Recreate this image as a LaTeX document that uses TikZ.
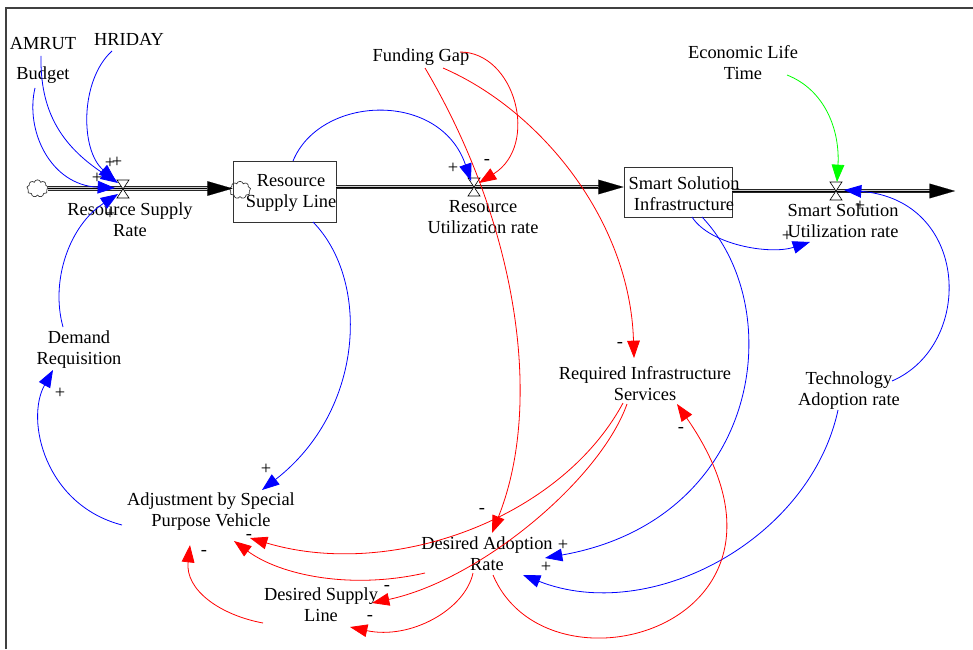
\documentclass[tikz,border=0pt]{standalone}
\usepackage{fontspec}
\setmainfont{Liberation Serif}
\usetikzlibrary{arrows.meta,shapes.symbols}
\begin{document}
\begin{tikzpicture}[x=0.75pt,y=-0.75pt,
  lbl/.style={font=\fontsize{13.8}{15.8}\selectfont, align=center, inner sep=0pt},
  pol/.style={font=\fontsize{13.8}{15.8}\selectfont, inner sep=0pt},
  stock/.style={draw=black!80, line width=0.6pt, inner sep=0pt},
  valvenode/.style={inner sep=0pt, minimum width=9pt, minimum height=13.5pt},
  cloudnode/.style={cloud, cloud puffs=9, cloud ignores aspect, draw=black!80, line width=0.5pt, minimum width=16pt, minimum height=13pt, inner sep=0pt},
  pipe/.style={draw=black!85, line width=0.7pt, double=black!20!white, double distance=2pt},
  pipetip/.style={-{Triangle[length=19pt,width=11pt]}, line width=0.1pt, black},
  cnx/.style={line width=0.6pt, -{Triangle[length=13pt,width=9.5pt]}},
  bluec/.style={cnx, blue},
  redc/.style={cnx, red},
  greenc/.style={cnx, green},
  hourglass/.pic={
    \draw[fill=white, line width=0.5pt] (-6,-9) -- (6,-9) -- (0,0) -- cycle;
    \draw[fill=white, line width=0.5pt] (0,0) -- (-6,9) -- (6,9) -- cycle;
  }
]
\useasboundingbox (0,0) rectangle (973,649);
% frame
\draw[line width=1.1pt, black!75] (6,649) -- (6,8) -- (973,8);

% stocks, valves, clouds
\node[stock, minimum width=77.25pt, minimum height=45.75pt] (rslbox) at (284.5,191.5) {};
\node[stock, minimum width=81pt, minimum height=37.5pt] (ssibox) at (678,192) {};
\node[cloudnode] (src) at (37.5,188.5) {};
\node[cloudnode] (cl2) at (240,190) {};
\node[valvenode] (v1) at (123,189) {};
\node[valvenode] (v2) at (474,187) {};
\node[valvenode] (v3) at (836,191) {};
\coordinate (sink) at (955,191);

% pipes
\draw[pipe, shorten >=16pt] (src.east) -- (src.east -| rslbox.west);
\draw[pipetip] (src.east) -- (src.east -| rslbox.west);
\draw[pipe, shorten >=16pt] (rslbox.east |- v2) -- (ssibox.west |- v2);
\draw[pipetip] (rslbox.east |- v2) -- (ssibox.west |- v2);
\draw[pipe, shorten >=16pt] (ssibox.east |- v3) -- (sink);
\draw[pipetip] (ssibox.east |- v3) -- (sink);
\pic at (v1) {hourglass};
\pic at (v2) {hourglass};
\pic at (v3) {hourglass};

% labels
\node[lbl] (amrut) at (43,44) {AMRUT};
\node[lbl] (hriday) at (129,39) {HRIDAY};
\node[lbl] (budget) at (43,75) {Budget};
\node[lbl] (rsr) at (130,220) {Resource Supply\\Rate};
\node[lbl] (rsl) at (291,193) {Resource\\Supply Line};
\node[lbl] (rur) at (483,217) {Resource\\Utilization rate};
\node[lbl] (ssi) at (684,194) {Smart Solution\\Infrastructure};
\node[lbl] (ssur) at (843,221) {Smart Solution\\Utilization rate};
\node[lbl] (fg) at (421,57) {Funding Gap};
\node[lbl] (elt) at (743,63) {Economic Life\\Time};
\node[lbl] (demand) at (79,350) {Demand\\Requisition};
\node[lbl] (ris) at (645,384) {Required Infrastructure\\Services};
\node[lbl] (tar) at (849,391) {Technology\\Adoption rate};
\node[lbl] (adj) at (211,512) {Adjustment by Special\\Purpose Vehicle};
\node[lbl] (dar) at (487,554) {Desired Adoption\\Rate};
\node[lbl] (dsl) at (321,605) {Desired Supply\\Line};

% connectors
\draw[bluec] ([shift={(-2,12)}]amrut.center) .. controls (40,110) and (60,145) .. ([shift={(-5,-6)}]v1.center);
\draw[bluec] ([shift={(-17,12)}]hriday.center) .. controls (80,80) and (80,150) .. ([shift={(-7,-8)}]v1.center);
\draw[bluec] ([shift={(-8,13)}]budget.center) .. controls (25,130) and (50,185) .. ([shift={(-8,-1)}]v1.center);
\draw[bluec] ([shift={(-16,-23)}]demand.center) .. controls (50,280) and (70,225) .. ([shift={(-5,5)}]v1.center);
\draw[bluec] ([shift={(-89,13)}]adj.center) .. controls (45,505) and (25,420) .. ([shift={(-26,20)}]demand.center);
\draw[bluec] ([shift={(28.5,30.5)}]rslbox.center) .. controls (370,280) and (365,410) .. ([shift={(51,-22)}]adj.center);
\draw[bluec] ([shift={(8.5,-30.5)}]rslbox.center) .. controls (320,95) and (440,90) .. ([shift={(-3,-6)}]v2.center);
\draw[bluec] ([shift={(14,25)}]ssibox.center) .. controls (710,245) and (770,255) .. ([shift={(-33,21)}]ssur.center);
\draw[bluec] ([shift={(24,25)}]ssibox.center) .. controls (790,310) and (760,520) .. ([shift={(58,4)}]dar.center);
\draw[bluec] ([shift={(-11,19)}]tar.center) .. controls (810,540) and (650,625) .. ([shift={(36,21)}]dar.center);
\draw[bluec] ([shift={(43,-10)}]tar.center) .. controls (975,345) and (970,200) .. ([shift={(8,-1)}]v3.center);
\draw[greenc] ([shift={(44,12)}]elt.center) .. controls (825,90) and (840,130) .. ([shift={(1,-9)}]v3.center);
\draw[redc] ([shift={(39,-5)}]fg.center) .. controls (515,52) and (540,145) .. ([shift={(5,-4)}]v2.center);
\draw[redc] ([shift={(4,11)}]fg.center) .. controls (515,220) and (545,400) .. ([shift={(5,-21)}]dar.center);
\draw[redc] ([shift={(22,11)}]fg.center) .. controls (540,110) and (630,220) .. ([shift={(-11,-26)}]ris.center);
\draw[redc] ([shift={(-22,19)}]ris.center) .. controls (560,520) and (390,580) .. ([shift={(39,26)}]adj.center);
\draw[redc] ([shift={(-18,20)}]ris.center) .. controls (600,480) and (480,580) .. ([shift={(51,-2)}]dsl.center);
\draw[redc] ([shift={(-62,19)}]dar.center) .. controls (350,590) and (280,575) .. ([shift={(23,29)}]adj.center);
\draw[redc] ([shift={(-58,18)}]dsl.center) .. controls (220,615) and (185,590) .. ([shift={(-21,33)}]adj.center);
\draw[redc] ([shift={(-14,19)}]dar.center) .. controls (465,610) and (410,640) .. ([shift={(29,22)}]dsl.center);
\draw[redc] ([shift={(6,21)}]dar.center) .. controls (548,705) and (830,625) .. ([shift={(32,20)}]ris.center);

% polarities
\node[pol] (p1) at (110,163) {+};
\node[pol] (p2) at (117,162) {+};
\node[pol] (p3) at (97,178) {+};
\node[pol] (p4) at (110,214) {+};
\node[pol] (p5) at (60,393) {+};
\node[pol] (p6) at (266,469) {+};
\node[pol] (p7) at (453,168) {+};
\node[pol] (p8) at (487,162) {-};
\node[pol] (p9) at (620,345) {-};
\node[pol] (p10) at (482,511) {-};
\node[pol] (p11) at (681,430) {-};
\node[pol] (p12) at (787,236) {+};
\node[pol] (p13) at (860,206) {+};
\node[pol] (p14) at (563,545) {+};
\node[pol] (p15) at (546,567) {+};
\node[pol] (p16) at (249,537) {-};
\node[pol] (p17) at (204,553) {-};
\node[pol] (p18) at (387,588) {-};
\node[pol] (p19) at (370,618) {-};
\end{tikzpicture}
\end{document}
